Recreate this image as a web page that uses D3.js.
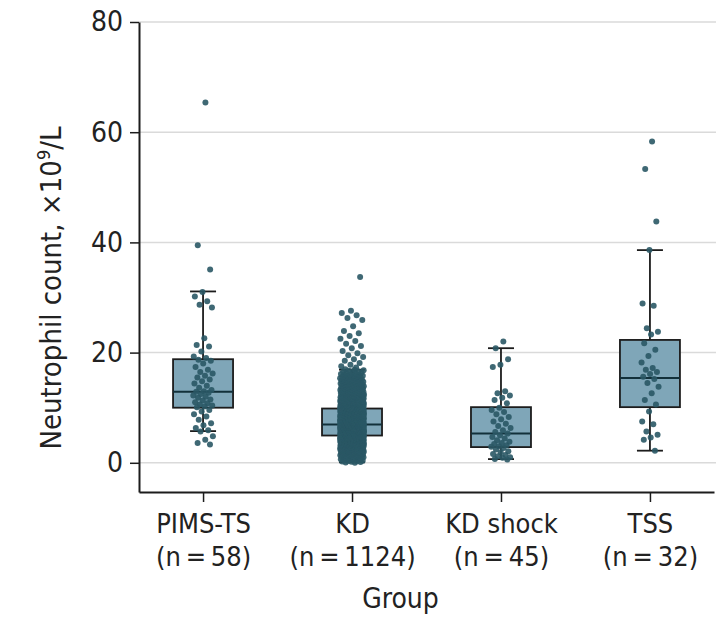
<!DOCTYPE html>
<html>
<head>
<meta charset="utf-8">
<script src="https://cdn.jsdelivr.net/npm/d3@7"></script>
<style>
  body { margin: 0; background: #fff; }
  svg text { font-family: "Liberation Sans Narrow", "DejaVu Sans Condensed", "Liberation Sans", sans-serif; fill: #222; }
</style>
</head>
<body>
<svg id="chart" width="723" height="633"></svg>
<script>
// groups and sample sizes
const groups = ['PIMS-TS', 'KD', 'KD shock', 'TSS'];
const groupN = [58, 1124, 45, 32];

// box statistics (x10^9/L)
const q1 = [10.0, 4.95, 2.85, 10.1];
const medians = [12.9, 6.95, 5.3, 15.4];
const q3 = [18.8, 9.85, 10.1, 22.3];
const whiskerLow = [5.75, 0.1, 0.67, 2.2];
const whiskerHigh = [31.1, 16.9, 20.8, 38.6];

// individual observations
const pimsValues = [65.4, 39.5, 35.1, 31.0, 30.2, 29.3, 28.7, 28.2, 22.6, 21.4, 21.1, 20.2, 19.3, 19.0,
  18.7, 18.5, 18.0, 17.4, 16.9, 16.5, 16.2, 15.8, 15.5, 15.1, 14.8, 14.4, 14.0, 13.6, 13.2,
  13.0, 12.9, 12.7, 12.5, 12.2, 12.0, 11.8, 11.5, 11.3, 11.0, 10.8, 10.6, 10.4, 10.2, 10.1,
  9.6, 9.3, 8.8, 8.4, 7.8, 7.2, 6.8, 6.3, 5.9, 5.7, 4.8, 4.2, 3.6, 3.3];
// KD is too dense to read point by point: counts per 1-unit bin (0-1, 1-2, ... 16-17)
const kdBinCounts = [20, 35, 55, 80, 105, 120, 122, 117, 103, 89, 70, 55, 42, 32, 24, 18, 12];
const kdUpperValues = [33.7, 27.6, 27.2, 26.8, 26.3, 25.9, 24.8, 23.9, 23.5, 23.0, 22.5, 22.1, 21.6,
  21.2, 20.8, 20.3, 19.9, 19.5, 19.2, 18.8, 18.5, 18.1, 17.8, 17.5, 17.3];
const kdShockValues = [22.0, 20.8, 18.8, 17.8, 17.4, 13.0, 12.6, 12.2, 11.8, 11.4, 10.8,
  10.0, 9.6, 9.2, 8.8, 8.3, 7.9, 7.5, 7.1, 6.7, 6.3, 5.9, 5.6, 5.3, 5.0, 4.7, 4.4, 4.1, 3.8,
  3.6, 3.4, 3.2, 3.0, 2.9, 2.7, 2.4, 2.1, 1.9, 1.6, 1.4, 1.2, 1.0, 0.9, 0.7, 0.6];
const tssValues = [58.3, 53.3, 43.8, 38.6, 28.9, 28.5, 24.4, 23.8, 23.3, 21.7, 20.5, 19.4, 18.2,
  17.2, 16.9, 16.5, 16.1, 15.6, 15.2, 14.5, 13.8, 12.6, 11.4, 10.6, 9.3, 7.5, 7.0, 5.7, 5.1,
  4.6, 4.2, 2.2];

const yTicks = [0, 20, 40, 60, 80];

const width = 723, height = 633;
const plotLeft = 139, plotRight = 714, plotTop = 22, plotBottom = 492;
const boxWidth = 60, capWidth = 26;
const pointColor = '#2a5865', boxColor = '#7fa6b8', lineColor = '#1c1c1c';

const svg = d3.select('#chart');

const x = d3.scalePoint().domain(groups).range([plotLeft, plotRight]).padding(0.43);
const y = d3.scaleLinear().domain([-5.3, 80]).range([plotBottom, plotTop]);

// gridlines
svg.append('g')
    .selectAll('line')
    .data(yTicks)
    .join('line')
    .attr('x1', plotLeft).attr('x2', 716)
    .attr('y1', d => y(d)).attr('y2', d => y(d))
    .attr('stroke', '#dadada')
    .attr('stroke-width', 1.5);

// y axis
const yAxis = svg.append('g')
    .attr('transform', 'translate(' + plotLeft + ',0)')
    .call(d3.axisLeft(y).tickValues(yTicks).tickSize(9).tickPadding(7).tickSizeOuter(0));
yAxis.select('.domain').attr('stroke', lineColor).attr('stroke-width', 2);
yAxis.selectAll('.tick line').attr('stroke', lineColor).attr('stroke-width', 1.5);
yAxis.selectAll('.tick text').attr('font-size', 28).attr('fill', '#222');

// x axis
const xAxis = svg.append('g')
    .attr('transform', 'translate(0,' + plotBottom + ')')
    .call(d3.axisBottom(x).tickSize(10).tickSizeOuter(0).tickFormat(''));
xAxis.select('.domain').attr('stroke', lineColor).attr('stroke-width', 2);
xAxis.selectAll('.tick line').attr('stroke', lineColor).attr('stroke-width', 1.5);
xAxis.selectAll('.tick').each(function(d, i) {
    const t = d3.select(this).append('text')
        .attr('text-anchor', 'middle')
        .attr('font-size', 27)
        .attr('fill', '#222');
    t.append('tspan').attr('x', 0).attr('y', 41).text(d);
    t.append('tspan').attr('x', 0).attr('y', 74).text('(n\u2009=\u2009' + groupN[i] + ')');
});

// axis titles
svg.append('text')
    .attr('x', (plotLeft + plotRight) / 2 - 26)
    .attr('y', 608)
    .attr('text-anchor', 'middle')
    .attr('font-size', 28)
    .text('Group');

const yTitle = svg.append('text')
    .attr('transform', 'translate(61,288) rotate(-90)')
    .attr('text-anchor', 'middle')
    .attr('font-size', 29);
yTitle.append('tspan').text('Neutrophil count, \u00d710');
yTitle.append('tspan').attr('font-size', 18).attr('dy', -11).text('9');
yTitle.append('tspan').attr('dy', 11).text('/L');

// boxes and whiskers
const boxes = svg.append('g')
    .selectAll('g')
    .data(groups)
    .join('g')
    .attr('transform', d => 'translate(' + x(d) + ',0)');

boxes.append('line')
    .attr('y1', (d, i) => y(whiskerLow[i])).attr('y2', (d, i) => y(whiskerHigh[i]))
    .attr('stroke', lineColor).attr('stroke-width', 1.8);
boxes.selectAll('line.cap')
    .data((d, i) => [whiskerLow[i], whiskerHigh[i]])
    .join('line')
    .attr('class', 'cap')
    .attr('x1', -capWidth / 2).attr('x2', capWidth / 2)
    .attr('y1', d => y(d)).attr('y2', d => y(d))
    .attr('stroke', lineColor).attr('stroke-width', 1.8);
boxes.append('rect')
    .attr('x', -boxWidth / 2).attr('width', boxWidth)
    .attr('y', (d, i) => y(q3[i]))
    .attr('height', (d, i) => y(q1[i]) - y(q3[i]))
    .attr('fill', boxColor)
    .attr('stroke', lineColor).attr('stroke-width', 1.8);
boxes.append('line')
    .attr('x1', -boxWidth / 2).attr('x2', boxWidth / 2)
    .attr('y1', (d, i) => y(medians[i])).attr('y2', (d, i) => y(medians[i]))
    .attr('stroke', '#12303a').attr('stroke-width', 2);

// points with a deterministic horizontal spread
function spread(i, half) {
    return ((i * 0.6180339887) % 1 - 0.5) * 2 * half;
}

const kdValues = [];
kdBinCounts.forEach((count, bin) => {
    for (let j = 0; j < count; j++) kdValues.push(bin + (j + 0.5) / count);
});
kdUpperValues.forEach(v => kdValues.push(v));

const pointSets = [
    { group: 'PIMS-TS', values: pimsValues, half: 10 },
    { group: 'KD', values: kdValues, half: 12 },
    { group: 'KD shock', values: kdShockValues, half: 10 },
    { group: 'TSS', values: tssValues, half: 9 }
];

pointSets.forEach(set => {
    svg.append('g')
        .selectAll('circle')
        .data(set.values)
        .join('circle')
        .attr('cx', (d, i) => x(set.group) + spread(i + 1, set.half))
        .attr('cy', d => y(d))
        .attr('r', 3)
        .attr('fill', pointColor)
        .attr('fill-opacity', 0.9);
});
</script>
</body>
</html>
